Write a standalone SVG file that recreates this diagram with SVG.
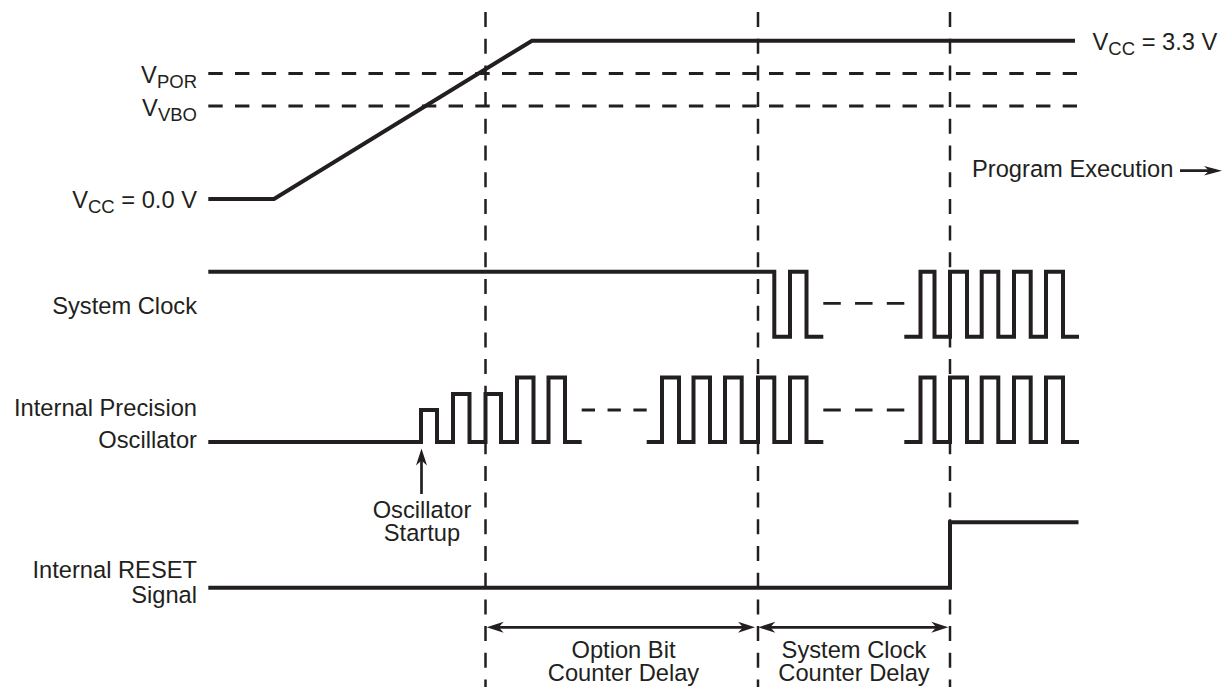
<svg xmlns="http://www.w3.org/2000/svg" width="1230" height="687" viewBox="0 0 1230 687">
<defs>
<style>
text{font-family:"Liberation Sans",Arial,Helvetica,sans-serif;font-size:23.7px;fill:#231f20}
.sub{font-size:18.5px}
.sig{fill:none;stroke:#231f20;stroke-width:4;stroke-linejoin:miter;stroke-linecap:butt}
.gap{fill:none;stroke:#231f20;stroke-width:2.8}
.grid{fill:none;stroke:#231f20;stroke-width:2.5;stroke-dasharray:15 11.7}
.lvl{fill:none;stroke:#231f20;stroke-width:2.8;stroke-dasharray:14.4 12.3}
.arr{fill:none;stroke:#231f20;stroke-width:2.7}
.end{text-anchor:end}
.mid{text-anchor:middle}
</style>
<marker id="ah" markerUnits="userSpaceOnUse" markerWidth="24" markerHeight="14" viewBox="-20 -7 24 14" refX="-6" refY="0" orient="auto-start-reverse">
<path d="M0,0 L-17,-5.5 L-12,0 L-17,5.5 Z" fill="#231f20"/>
</marker>
<marker id="ah2" markerUnits="userSpaceOnUse" markerWidth="24" markerHeight="14" viewBox="-20 -7 24 14" refX="-6" refY="0" orient="auto">
<path d="M0,0 L-18,-4.8 L-13,0 L-18,4.8 Z" fill="#231f20"/>
</marker>
</defs>
<rect width="1230" height="687" fill="#ffffff"/>

<g id="timing-grid">
<line class="grid" x1="485.5" y1="12" x2="485.5" y2="687"/>
<line class="grid" x1="758" y1="12" x2="758" y2="687"/>
<line class="grid" x1="950" y1="12" x2="950" y2="687"/>
</g>

<g id="vcc">
<line class="lvl" x1="208.3" y1="73.5" x2="1077" y2="73.5"/>
<line class="lvl" x1="208.3" y1="106" x2="1077" y2="106"/>
<path class="sig" d="M208.3,199 H274 L532,40.7 H1075"/>
<text class="end" x="197" y="83.3">V<tspan class="sub" dy="5">POR</tspan></text>
<text class="end" x="197" y="116">V<tspan class="sub" dy="4.7">VBO</tspan></text>
<text class="end" x="197" y="207.7">V<tspan class="sub" dy="5.6">CC</tspan><tspan dy="-5.6"> = 0.0 V</tspan></text>
<text x="1092.5" y="50">V<tspan class="sub" dy="5">CC</tspan><tspan dy="-5"> = 3.3 V</tspan></text>
</g>

<g id="program-execution">
<text x="972" y="176.7">Program Execution</text>
</g>

<g id="system-clock">
<text class="end" x="197" y="314">System Clock</text>
<path class="sig" d="M208.3,271.7 H774.3 V336.7 H790 V271.7 H806.5 V336.7 H823.3"/>
<line class="gap" x1="823.3" y1="303.3" x2="904.3" y2="303.3" stroke-dasharray="17.5 14.25"/>
<path class="sig" d="M904.3,336.7 H920.5 V271.7 H934.5 V336.7 H950 V271.7 H967 V336.7 H981.7 V271.7 H998.3 V336.7 H1014 V271.7 H1030.7 V336.7 H1046 V271.7 H1063 V336.7 H1079"/>
</g>

<g id="internal-precision-oscillator">
<text class="end" x="197" y="416">Internal Precision</text>
<text class="end" x="197" y="448">Oscillator</text>
<path class="sig" d="M208.3,442 H421 V410 H437 V442 H453 V394 H469.5 V442 H485.5 V394 H501 V442 H517 V377.5 H533.5 V442 H548.5 V377.5 H565 V442 H581.7"/>
<line class="gap" x1="581.7" y1="410" x2="646.7" y2="410" stroke-dasharray="13.3 12.55"/>
<path class="sig" d="M646.7,442 H662 V377.5 H679 V442 H693.5 V377.5 H710 V442 H725 V377.5 H741.7 V442 H758 V377.5 H774.3 V442 H790 V377.5 H806.5 V442 H823.3"/>
<line class="gap" x1="823.3" y1="410" x2="904.3" y2="410" stroke-dasharray="17.5 14.25"/>
<path class="sig" d="M904.3,442 H920.5 V377.5 H934.5 V442 H950 V377.5 H967 V442 H981.7 V377.5 H998.3 V442 H1014 V377.5 H1030.7 V442 H1046 V377.5 H1063 V442 H1079"/>
</g>

<g id="oscillator-startup">
<text class="mid" x="422" y="518">Oscillator</text>
<text class="mid" x="422" y="541">Startup</text>
</g>

<g id="internal-reset">
<text class="end" x="197" y="578">Internal RESET</text>
<text class="end" x="197" y="603">Signal</text>
<path class="sig" d="M208.3,587.7 H950 V522.3 H1078.5"/>
</g>

<g id="option-bit-delay">
<text class="mid" x="623.5" y="658">Option Bit</text>
<text class="mid" x="623.5" y="680.5">Counter Delay</text>
</g>

<g id="system-clock-delay">
<text class="mid" x="854" y="658">System Clock</text>
<text class="mid" x="854" y="680.5">Counter Delay</text>
</g>

<g id="connectors">
<line class="arr" x1="421.5" y1="494" x2="421.5" y2="454.5" marker-end="url(#ah)"/>
<line class="arr" x1="492.7" y1="627.3" x2="749" y2="627.3" marker-start="url(#ah)" marker-end="url(#ah)"/>
<line class="arr" x1="764.3" y1="627.3" x2="942.3" y2="627.3" marker-start="url(#ah)" marker-end="url(#ah)"/>
<line class="arr" x1="1180" y1="170.7" x2="1216" y2="170.7" marker-end="url(#ah2)"/>
</g>
</svg>
